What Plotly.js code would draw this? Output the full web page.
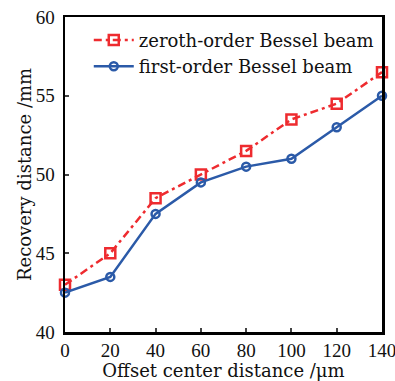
<!DOCTYPE html>
<html>
<head>
<meta charset="utf-8">
<script src="https://cdn.plot.ly/plotly-3.0.1.min.js"></script>
<style>html,body{margin:0;padding:0;background:#fff;}#chart{width:395px;height:381px;}</style>
</head>
<body>
<div id="chart"></div>
<script>
var offsetDistance = [0, 20, 40, 60, 80, 100, 120, 140];
var zerothOrder = [43, 45, 48.5, 50, 51.5, 53.5, 54.5, 56.5];
var firstOrder = [42.5, 43.5, 47.5, 49.5, 50.5, 51, 53, 55];
var seriesNames = ['zeroth-order Bessel beam', 'first-order Bessel beam'];
var xTicks = [0, 20, 40, 60, 80, 100, 120, 140];
var yTicks = [40, 45, 50, 55, 60];

var traces = [
  {x: offsetDistance, y: zerothOrder, name: seriesNames[0], type: 'scatter', mode: 'lines+markers', cliponaxis: false,
   line: {color: '#ee2b2f', width: 2.5, dash: '8px,4px,3px,4px'},
   marker: {symbol: 'square-open', size: 10, color: '#ee2b2f', line: {width: 2.5, color: '#ee2b2f'}}},
  {x: offsetDistance, y: firstOrder, name: seriesNames[1], type: 'scatter', mode: 'lines+markers', cliponaxis: false,
   line: {color: '#2b5aa8', width: 2.5},
   marker: {symbol: 'circle-open', size: 8, color: '#2b5aa8', line: {width: 2.5, color: '#2b5aa8'}}}
];

var tickFont = {family: 'Liberation Serif, serif', size: 19, color: '#111'};
var titleFont = {family: 'DejaVu Serif, serif', size: 18, color: '#111'};

var layout = {
  width: 395, height: 381,
  margin: {l: 65, r: 13, t: 17, b: 49},
  paper_bgcolor: '#fff', plot_bgcolor: '#fff',
  showlegend: true,
  legend: {x: 0.075, y: 0.985, xanchor: 'left', yanchor: 'top', bgcolor: 'rgba(0,0,0,0)',
           font: {family: 'DejaVu Serif, serif', size: 18, color: '#111'}, itemwidth: 40, tracegroupgap: 0},
  xaxis: {range: [0, 140], tickvals: xTicks, ticktext: xTicks.map(String), ticks: 'inside', ticklen: 4, tickwidth: 2,
          showline: true, linewidth: 2.5, linecolor: '#000', mirror: true, showgrid: false, zeroline: false,
          tickfont: tickFont, ticklabelstandoff: 0, ticklabeloverflow: 'allow',
          title: {text: 'Offset center distance /μm', font: titleFont, standoff: 2}},
  yaxis: {range: [40, 60], tickvals: yTicks, ticktext: yTicks.map(String), ticks: 'inside', ticklen: 4, tickwidth: 2,
          showline: true, linewidth: 2.5, linecolor: '#000', mirror: true, showgrid: false, zeroline: false,
          tickfont: tickFont, ticklabelstandoff: 4, ticklabeloverflow: 'allow',
          title: {text: 'Recovery distance /mm', font: titleFont, standoff: 0}}
};

Plotly.newPlot('chart', traces, layout, {displayModeBar: false, staticPlot: true});
</script>
</body>
</html>
